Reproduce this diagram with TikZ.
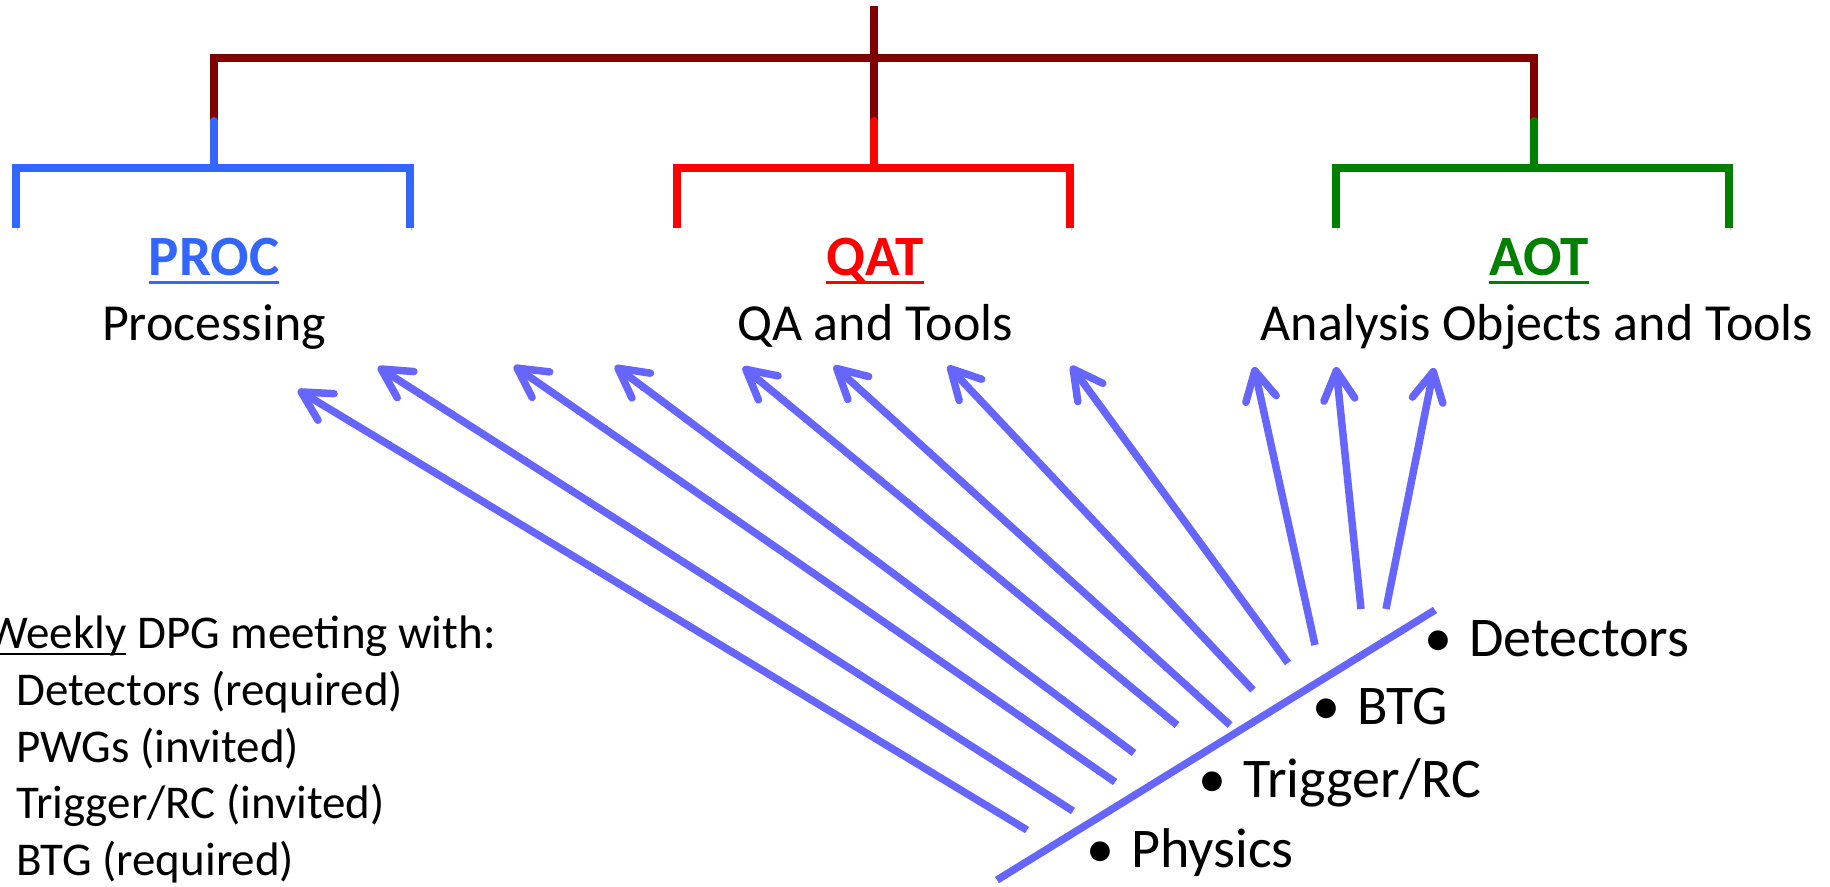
\documentclass[tikz,border=0pt]{standalone}
\usepackage{fontspec}
\setmainfont{Carlito}
\usetikzlibrary{arrows.meta}

\definecolor{topred}{RGB}{128,0,0}
\definecolor{procblue}{RGB}{51,102,255}
\definecolor{qatred}{RGB}{255,0,0}
\definecolor{aotgreen}{RGB}{0,128,0}
\definecolor{linkblue}{RGB}{102,102,255}

% underline drawn as a rule under the word, crossing descenders
\newcommand{\ulword}[1]{\setbox0\hbox{#1}\rlap{\rule[-0.155em]{\wd0}{0.05em}}\box0\relax}
% bullet centred a fixed distance before the text
\newcommand{\bul}{\llap{\makebox[0pt]{•}\hspace{31pt}}}

\tikzset{
  softshadow/.style={preaction={draw=black, draw opacity=0.18,
      transform canvas={shift={(1.5pt,-2.5pt)}}}},
  branch/.style={line width=8pt, line cap=butt, line join=miter, softshadow},
  stem/.style={line width=8pt, line cap=round, softshadow},
  link/.style={draw=linkblue, line width=7.5pt, line cap=butt, softshadow},
  linkarrow/.style={link, -{Straight Barb[length=29pt, width=31pt, round]}},
  head/.style={inner sep=0pt, anchor=base, font=\fontsize{57}{68}\selectfont\bfseries},
  desc/.style={inner sep=0pt, anchor=base, font=\fontsize{52}{62}\selectfont},
  rlist/.style={inner sep=0pt, anchor=base west, font=\fontsize{56}{67}\selectfont},
  llist/.style={inner sep=0pt, anchor=base west, font=\fontsize{47}{57}\selectfont},
}

\begin{document}
\begin{tikzpicture}[x=1pt, y=-1pt]
\useasboundingbox (0,0) rectangle (1830,886);

% ---- organisation tree ----
\draw[branch, topred] (214,121) -- (214,58) -- (1534,58) -- (1534,121);
\draw[branch, topred] (874,6) -- (874,121);

\draw[stem, procblue] (214,121) -- (214,168);
\draw[branch, procblue] (16,228) -- (16,168) -- (410,168) -- (410,228);

\draw[stem, qatred] (874,121) -- (874,168);
\draw[branch, qatred] (677,228) -- (677,168) -- (1070,168) -- (1070,228);

\draw[stem, aotgreen] (1534,121) -- (1534,168);
\draw[branch, aotgreen] (1336,228) -- (1336,168) -- (1729,168) -- (1729,228);

% ---- group headings ----
\node[head, procblue] (proc) at (214,275) {\ulword{PROC}};
\node[desc] (procdesc) at (214,340) {Processing};
\node[head, qatred] (qat) at (875,275) {\ulword{QAT}};
\node[desc] (qatdesc) at (875,340) {QA and Tools};
\node[head, aotgreen] (aot) at (1539,275) {\ulword{AOT}};
\node[desc] (aotdesc) at (1537,340) {Analysis Objects and Tools};

% ---- contributors line and links ----
\coordinate (baseS) at (997,880);
\coordinate (baseN) at (1435,610);
\draw[link] (baseS) -- (baseN);

\foreach \i/\tx/\ty/\hx/\hy in {
   1/1027/830/298/390,
   2/1073/811/378/367,
   3/1115/782/514/366,
   4/1134/753/615/366,
   5/1177/725/743/367,
   6/1230/725/834/366,
   7/1253/690/948/366,
   8/1288/663/1071/366,
   9/1315/645/1254/367,
  10/1361/609/1336/367,
  11/1386/609/1434/368}{
  \coordinate (tail\i) at (\tx,\ty);
  \coordinate (tip\i) at (\hx,\hy);
  \draw[linkarrow] (tail\i) -- (tip\i);
}

% ---- contributors ----
\node[rlist] (det) at (1469,656) {\bul Detectors};
\node[rlist] (btg) at (1357,724) {\bul BTG};
\node[rlist] (trig) at (1243,797) {\bul Trigger/RC};
\node[rlist] (phys) at (1131,867) {\bul Physics};

% ---- weekly meeting ----
\node[llist] (weekly) at (-14,648) {\ulword{Weekly} DPG meeting with:};
\node[llist] (mdet) at (16,705) {Detectors (required)};
\node[llist] (mpwg) at (16,762) {PWGs (invited)};
\node[llist] (mtrig) at (16,818) {Trigger/RC (invited)};
\node[llist] (mbtg) at (16,875) {BTG (required)};
\end{tikzpicture}
\end{document}
